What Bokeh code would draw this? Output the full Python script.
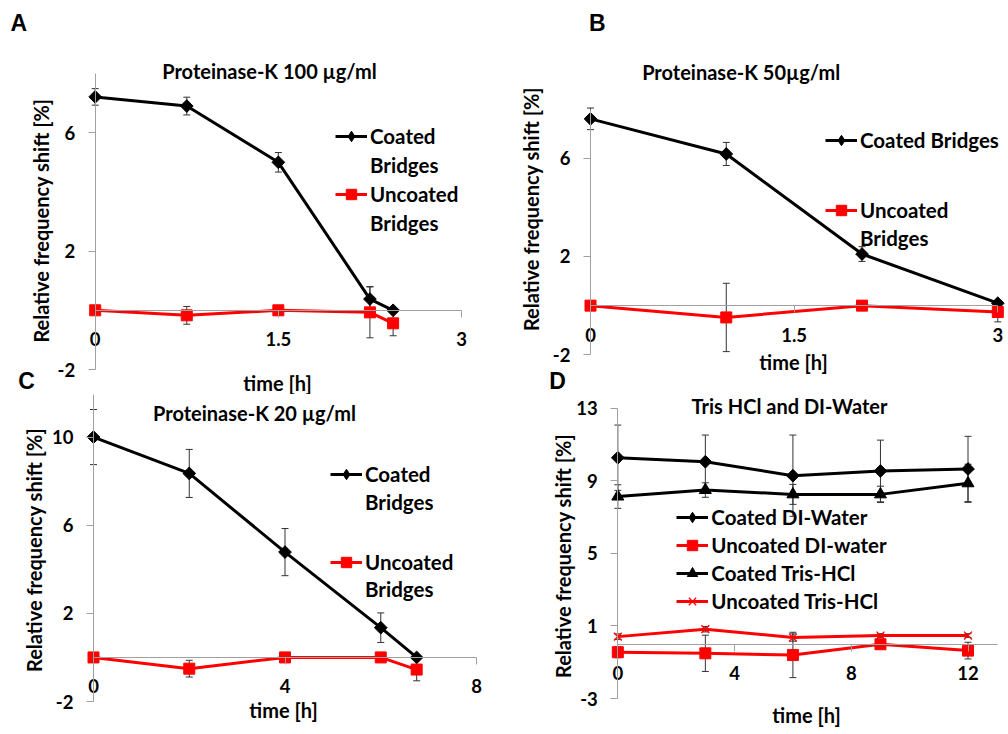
import math
from bokeh.plotting import figure
from bokeh.models import (ColumnDataSource, Whisker, TeeHead, Legend, LegendItem,
                          Label, FixedTicker, Range1d)
from bokeh.layouts import row, column
from bokeh.embed import file_html
from bokeh.resources import INLINE

# ---------------- data ----------------
a_title = "Proteinase-K 100 µg/ml"
a_time = [0, 0.75, 1.5, 2.25, 2.44]
a_coated = [7.21, 6.9, 5.0, 0.38, 0.0]
a_coated_err = [0.28, 0.3, 0.33, 0.42, 0.0]
a_uncoated = [0.0, -0.17, 0.0, -0.07, -0.44]
a_uncoated_err = [0.0, 0.3, 0.0, 0.86, 0.42]
a_xticks = [0, 1.5, 3]
a_xtick_labels = ["0", "1.5", "3"]
a_yticks = [-2, 2, 6]
a_ytick_labels = ["-2", "2", "6"]

b_title = "Proteinase-K 50µg/ml"
b_time = [0, 1, 2, 3]
b_coated = [7.6, 6.17, 2.1, 0.1]
b_coated_err = [0.44, 0.47, 0.3, 0.0]
b_uncoated = [0.0, -0.48, 0.0, -0.26]
b_uncoated_err = [0.0, 1.39, 0.0, 0.4]
b_xticks = [0, 1.5, 3]
b_xtick_labels = ["0", "1.5", "3"]
b_yticks = [-2, 2, 6]
b_ytick_labels = ["-2", "2", "6"]

c_title = "Proteinase-K 20 µg/ml"
c_time = [0, 2, 4, 6, 6.75]
c_coated = [10.0, 8.35, 4.78, 1.35, 0.0]
c_coated_err = [1.25, 1.09, 1.07, 0.67, 0.0]
c_uncoated = [0.0, -0.51, 0.0, 0.0, -0.55]
c_uncoated_err = [0.0, 0.38, 0.0, 0.0, 0.51]
c_xticks = [0, 4, 8]
c_xtick_labels = ["0", "4", "8"]
c_yticks = [-2, 2, 6, 10]
c_ytick_labels = ["-2", "2", "6", "10"]

d_title = "Tris HCl and DI-Water"
d_time = [0, 3, 6, 9, 12]
d_coated_di = [10.27, 10.05, 9.28, 9.54, 9.65]
d_coated_di_err = [1.8, 1.47, 2.24, 1.7, 1.8]
d_uncoated_di = [-0.45, -0.51, -0.6, -0.01, -0.36]
d_uncoated_di_err = [0.3, 1.0, 1.25, 0.2, 0.46]
d_coated_tris = [8.13, 8.49, 8.25, 8.25, 8.86]
d_coated_tris_err = [0.65, 0.4, 0.55, 0.45, 1.05]
d_uncoated_tris = [0.41, 0.82, 0.36, 0.47, 0.47]
d_uncoated_tris_err = [0.15, 0.15, 0.2, 0.1, 0.1]
d_xticks = [0, 4, 8, 12]
d_xtick_labels = ["0", "4", "8", "12"]
d_yticks = [-3, 1, 5, 9, 13]
d_ytick_labels = ["-3", "1", "5", "9", "13"]

x_title = "time [h]"
y_title_ab = "Relative frequency shift [%]"
y_title_c = "Relative  frequency shift [%]"
y_title_d = "Relative frequency shift  [%]"

# ---------------- style ----------------
FONT = "Lato"
LETTER_FONT = "Liberation Sans"
LETTER_SIZE = "23px"
BLACK = "#000000"
RED = "#ff0000"
AXIS = "#a0a0a0"
ERR = "#333333"
TITLE_SIZE = "20px"
LEG_SIZE = "20.5px"
TICK_SIZE = "18.5px"
YT_SIZE = "20px"
XT_SIZE = "20px"
ITEM_H = 26


class Panel:
    """One chart; the frame covers the whole figure so that nothing is clipped."""

    def __init__(self, box, xlim, xpx, ylim, ypx):
        bx, by, bw, bh = box
        self.sx = (xpx[1] - xpx[0]) / (xlim[1] - xlim[0])
        self.sy = (ypx[0] - ypx[1]) / (ylim[1] - ylim[0])
        self.x0, self.px0 = xlim[0], xpx[0]
        self.y0, self.py0 = ylim[0], ypx[0]
        self.fl = bx
        self.fb = by + bh
        p = figure(width=bw, height=bh,
                   x_range=Range1d(self.dx(bx), self.dx(bx + bw)),
                   y_range=Range1d(self.dy(by + bh), self.dy(by)),
                   min_border_left=0, min_border_right=0,
                   min_border_top=0, min_border_bottom=0,
                   toolbar_location=None, output_backend="svg", title=None)
        p.outline_line_color = None
        p.background_fill_color = "white"
        p.border_fill_color = "white"
        p.grid.visible = False
        for ax in (p.xaxis[0], p.yaxis[0]):
            ax.fixed_location = 0
            ax.axis_line_color = AXIS
            ax.major_tick_line_color = AXIS
            ax.major_tick_in = 0
            ax.major_tick_out = 7
            ax.minor_tick_line_color = None
            ax.major_label_text_font = FONT
            ax.major_label_text_font_style = "bold"
            ax.major_label_text_font_size = TICK_SIZE
            ax.major_label_text_color = BLACK
        p.xaxis[0].major_label_standoff = 15
        p.yaxis[0].major_label_standoff = 13
        p.xaxis[0].bounds = tuple(xlim)
        p.yaxis[0].bounds = tuple(ylim)
        self.p = p

    def dx(self, px):
        return self.x0 + (px - self.px0) / self.sx

    def dy(self, py):
        return self.y0 + (self.py0 - py) / self.sy

    def ticks(self, xt, xl, yt, yl):
        self.p.xaxis[0].ticker = FixedTicker(ticks=xt)
        self.p.xaxis[0].major_label_overrides = {t: s for t, s in zip(xt, xl)}
        self.p.yaxis[0].ticker = FixedTicker(ticks=yt)
        self.p.yaxis[0].major_label_overrides = {t: s for t, s in zip(yt, yl)}

    def text(self, px, py, s, size, font=FONT, angle=0.0):
        self.p.add_layout(Label(x=self.dx(px), y=self.dy(py), text=s,
                                text_font=font, text_font_style="bold",
                                text_font_size=size, text_color=BLACK,
                                text_align="center", text_baseline="middle",
                                angle=angle))

    def series(self, xs, ys, errs, color, marker, size, angle=0.0, legend_marker=None):
        pts = [(x, y - e, y + e) for x, y, e in zip(xs, ys, errs) if e > 0]
        if pts:
            src = ColumnDataSource(dict(x=[q[0] for q in pts],
                                        lower=[q[1] for q in pts],
                                        upper=[q[2] for q in pts]))
            self.p.add_layout(Whisker(source=src, base="x", lower="lower", upper="upper",
                                      line_color=ERR, line_width=1,
                                      upper_head=TeeHead(size=7, line_color=ERR, line_width=1),
                                      lower_head=TeeHead(size=7, line_color=ERR, line_width=1)))
        ln = self.p.line(xs, ys, line_color=color, line_width=3)
        leg_mk = None
        if legend_marker is not None:
            # smaller diamond at the same points, fully hidden under the real
            # marker; it supplies the diamond sample of the legend
            leg_mk = self.p.scatter(xs, ys, marker=legend_marker, size=size,
                                    fill_color=color, line_color=color)
        if marker == "x":
            mk = self.p.scatter(xs, ys, marker="x", size=size, line_color=color, line_width=1.3)
        else:
            mk = self.p.scatter(xs, ys, marker=marker, size=size, angle=angle,
                                fill_color=color, line_color=color)
        return [ln, leg_mk if leg_mk is not None else mk]

    def legend(self, entries, sample_left, first_center, spacing):
        items = []
        for label, rends in entries:
            if rends is None:
                rends = [self.p.line([], [], line_alpha=0)]
            items.append(LegendItem(label=label, renderers=rends))
        n = len(items)
        h = n * ITEM_H + (n - 1) * spacing
        top = first_center - ITEM_H / 2
        loc = (sample_left - self.fl, self.fb - top - h)
        leg = Legend(items=items, location=loc, padding=0, margin=0, spacing=spacing,
                     glyph_width=32, glyph_height=ITEM_H, label_height=ITEM_H,
                     label_standoff=3, border_line_color=None,
                     background_fill_alpha=0,
                     label_text_font=FONT, label_text_font_style="bold",
                     label_text_font_size=LEG_SIZE, label_text_color=BLACK)
        self.p.add_layout(leg)


DIAMOND = dict(marker="square", size=9, angle=math.pi / 4, legend_marker="diamond")

# ---------------- panel A ----------------
A = Panel((0, 0, 504, 394), (0, 3), (94.7, 461.0), (-2, 8), (369.0, 73.0))
A.ticks(a_xticks, a_xtick_labels, a_yticks, a_ytick_labels)
ra1 = A.series(a_time, a_coated, a_coated_err, BLACK, **DIAMOND)
ra2 = A.series(a_time, a_uncoated, a_uncoated_err, RED, "square", 11)
A.legend([("Coated", ra1), ("Bridges", None), ("Uncoated", ra2), ("Bridges", None)],
         335, 136, 3)
A.text(18.3, 22.3, "A", LETTER_SIZE, font=LETTER_FONT)
A.text(26, 380, "C", LETTER_SIZE, font=LETTER_FONT)
A.text(269, 70, a_title, TITLE_SIZE)
A.text(277, 382, x_title, XT_SIZE)
A.text(40.7, 220, y_title_ab, YT_SIZE, angle=math.pi / 2)

# ---------------- panel B (its figure also carries the letter D) ----------------
B = Panel((504, 0, 502, 393), (0, 3), (590.0, 997.3), (-2, 8), (354.3, 108.5))
B.ticks(b_xticks, b_xtick_labels, b_yticks, b_ytick_labels)
rb1 = B.series(b_time, b_coated, b_coated_err, BLACK, **DIAMOND)
rb2 = B.series(b_time, b_uncoated, b_uncoated_err, RED, "square", 11)
B.legend([("Coated Bridges", rb1)], 825, 140, 2)
B.legend([("Uncoated", rb2), ("Bridges", None)], 825, 210, 2)
B.text(596.7, 22.3, "B", LETTER_SIZE, font=LETTER_FONT)
B.text(557, 380.5, "D", LETTER_SIZE, font=LETTER_FONT)
B.text(740.7, 71, b_title, TITLE_SIZE)
B.text(793, 361, x_title, XT_SIZE)
B.text(530, 208.5, y_title_ab, YT_SIZE, angle=math.pi / 2)

# ---------------- panel C ----------------
C = Panel((0, 394, 504, 338), (0, 8), (93.0, 476.0), (-2, 12), (701.0, 392.5))
C.ticks(c_xticks, c_xtick_labels, c_yticks, c_ytick_labels)
rc1 = C.series(c_time, c_coated, c_coated_err, BLACK, **DIAMOND)
rc2 = C.series(c_time, c_uncoated, c_uncoated_err, RED, "square", 11)
C.legend([("Coated", rc1), ("Bridges", None)], 330, 474, 2)
C.legend([("Uncoated", rc2), ("Bridges", None)], 330, 562, 1)
C.text(254, 412, c_title, TITLE_SIZE)
C.text(283, 709.7, x_title, XT_SIZE)
C.text(33, 547, y_title_c, YT_SIZE, angle=math.pi / 2)

# ---------------- panel D ----------------
D = Panel((504, 393, 502, 339), (0, 13), (617.3, 996.7), (-3, 13), (698.0, 407.7))
D.ticks(d_xticks, d_xtick_labels, d_yticks, d_ytick_labels)
rd1 = D.series(d_time, d_coated_di, d_coated_di_err, BLACK, **DIAMOND)
rd2 = D.series(d_time, d_uncoated_di, d_uncoated_di_err, RED, "square", 11)
rd3 = D.series(d_time, d_coated_tris, d_coated_tris_err, BLACK, "triangle", 12)
rd4 = D.series(d_time, d_uncoated_tris, d_uncoated_tris_err, RED, "x", 11)
D.legend([("Coated DI-Water", rd1), ("Uncoated DI-water", rd2),
          ("Coated Tris-HCl", rd3), ("Uncoated Tris-HCl", rd4)], 676.3, 517, 2)
D.text(789, 405, d_title, TITLE_SIZE)
D.text(806, 714.7, x_title, XT_SIZE)
D.text(562.3, 553, y_title_d, YT_SIZE, angle=math.pi / 2)

layout = row(column(A.p, C.p), column(B.p, D.p))
open("out.html", "w").write(file_html(layout, INLINE))
